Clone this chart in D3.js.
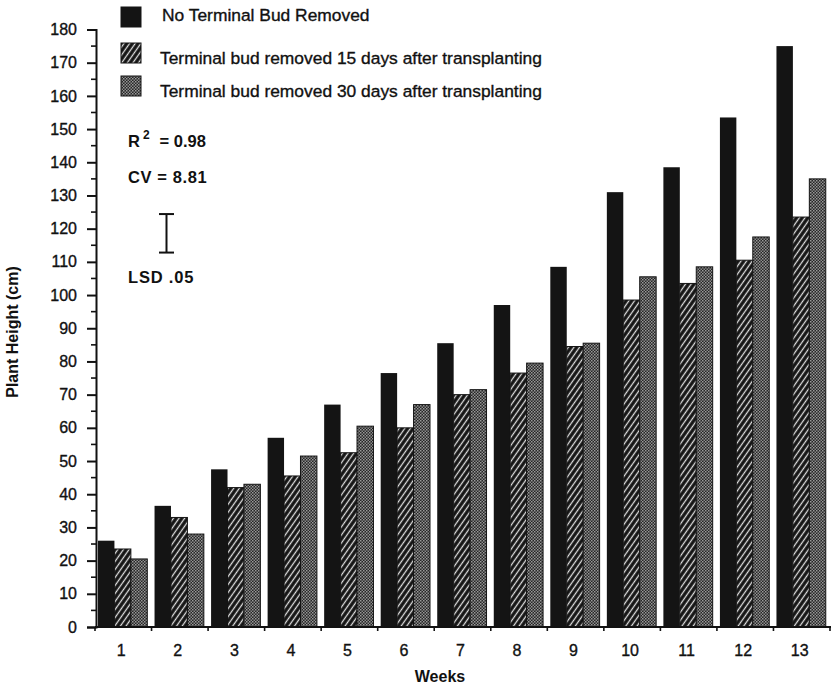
<!DOCTYPE html>
<html><head><meta charset="utf-8">
<script src="https://cdn.jsdelivr.net/npm/d3@7"></script>
<style>body{margin:0;background:#fff}svg{display:block}text{font-family:"Liberation Sans",Arial,Helvetica,sans-serif;fill:#111}.heavy{stroke:#111;stroke-width:0.35px}</style>
</head><body>
<script>
const weeks = [1,2,3,4,5,6,7,8,9,10,11,12,13];
const seriesNames = ["No Terminal Bud Removed","Terminal bud removed 15 days after transplanting","Terminal bud removed 30 days after transplanting"];
const noRemoval   = [26, 36.5, 47.5, 57, 67, 76.5, 85.5, 97, 108.5, 131, 138.5, 153.5, 175];
const removed15   = [23.5, 33, 42, 45.5, 52.5, 60, 70, 76.5, 84.5, 98.5, 103.5, 110.5, 123.5];
const removed30   = [20.5, 28, 43, 51.5, 60.5, 67, 71.5, 79.5, 85.5, 105.5, 108.5, 117.5, 135];
const yTicks = [0,10,20,30,40,50,60,70,80,90,100,110,120,130,140,150,160,170,180];
const lsdRange = [112.8, 124.4];
const stats = {r2: "0.98", cv: "8.81", lsd: "LSD .05"};

const W = 832, H = 689;
const svg = d3.select("body").append("svg").attr("width", W).attr("height", H);
const defs = svg.append("defs");

// hatched pattern
const ph = defs.append("pattern").attr("id","hatch").attr("patternUnits","userSpaceOnUse")
  .attr("width",4.6).attr("height",10).attr("patternTransform","rotate(35)");
ph.append("rect").attr("width",4.6).attr("height",10).attr("fill","#141414");
ph.append("line").attr("x1",2.3).attr("x2",2.3).attr("y1",0).attr("y2",10).attr("stroke","#e0e0e0").attr("stroke-width",1.3);
// dotted pattern
const pd = defs.append("pattern").attr("id","dots").attr("patternUnits","userSpaceOnUse").attr("width",3).attr("height",3);
pd.append("rect").attr("width",3).attr("height",3).attr("fill","#262626");
pd.append("rect").attr("x",0).attr("y",0).attr("width",1.5).attr("height",1.5).attr("fill","#9a9a9a");
pd.append("rect").attr("x",1.5).attr("y",1.5).attr("width",1.5).attr("height",1.5).attr("fill","#8a8a8a");

const fills = ["#141414","url(#hatch)","url(#dots)"];
const data = [noRemoval, removed15, removed30];

const x0 = d3.scaleBand().domain(weeks).range([95, 830]).padding(0);
const x1 = d3.scaleBand().domain([0,1,2]).range([3, 52.3]).padding(0);
const y = d3.scaleLinear().domain([0,180]).range([627, 29.5]);

// bars
const g = svg.append("g");
weeks.forEach((w, i) => {
  data.forEach((s, k) => {
    g.append("rect")
      .attr("x", x0(w) + x1(k))
      .attr("y", y(s[i]))
      .attr("width", x1.bandwidth())
      .attr("height", y(0) - y(s[i]))
      .attr("fill", fills[k])
      .attr("stroke", "#141414").attr("stroke-width", k === 0 ? 0 : 1);
  });
});

// y axis
const yAxis = svg.append("g").attr("transform","translate(96,0)")
  .call(d3.axisLeft(y).tickValues(yTicks).tickSize(9).tickPadding(10).tickFormat(d3.format("d")));
yAxis.select(".domain").attr("stroke","#111").attr("stroke-width",2);
yAxis.selectAll(".tick line").attr("stroke","#111").attr("stroke-width",2);
yAxis.selectAll(".tick text").attr("font-size",16).attr("font-family",'"Liberation Sans",Arial,sans-serif').attr("fill","#111").attr("class","heavy");
// minor ticks
const minor = d3.range(5, 180, 10);
svg.append("g").selectAll("line").data(minor).join("line")
  .attr("x1",91).attr("x2",96).attr("y1",d=>y(d)).attr("y2",d=>y(d))
  .attr("stroke","#111").attr("stroke-width",1.6);

// x axis
svg.append("line").attr("x1",95).attr("x2",831).attr("y1",y(0)).attr("y2",y(0)).attr("stroke","#111").attr("stroke-width",2);
const bounds = weeks.map(w => x0(w)).concat([x0(13) + x0.bandwidth()]);
svg.append("g").selectAll("line").data(bounds).join("line")
  .attr("x1",d=>d).attr("x2",d=>d).attr("y1",y(0)).attr("y2",y(0)+4)
  .attr("stroke","#111").attr("stroke-width",1.6);
svg.append("g").selectAll("text").data(weeks).join("text")
  .attr("class","heavy")
  .attr("x", d => x0(d) + x0.bandwidth()/2 - 2).attr("y", 656)
  .attr("text-anchor","middle").attr("font-size",16).text(d => d);

// axis titles
svg.append("text").attr("x",440).attr("y",682).attr("text-anchor","middle")
  .attr("font-size",16).attr("font-weight","bold").text("Weeks");
svg.append("text").attr("transform","translate(18,332) rotate(-90)").attr("text-anchor","middle")
  .attr("font-size",16).attr("font-weight","bold").text("Plant Height (cm)");

// legend
const legY = [7, 43, 76];
const legBase = [21, 64, 96.5];
seriesNames.forEach((n, k) => {
  svg.append("rect").attr("x",121).attr("y",legY[k]).attr("width",20).attr("height",20)
    .attr("fill", fills[k]).attr("stroke","#141414").attr("stroke-width",1);
  svg.append("text").attr("class","heavy").attr("x", k===0 ? 162 : 160).attr("y", legBase[k]).attr("font-size",17.4).text(n);
});

// stats
const r2 = svg.append("text").attr("x",128).attr("y",147).attr("font-size",16.5).attr("font-weight","bold");
r2.append("tspan").text("R");
r2.append("tspan").attr("dy",-8).attr("dx",3).attr("font-size",12).text("2");
r2.append("tspan").attr("dy",8).attr("dx",10).text("= " + stats.r2);
svg.append("text").attr("x",128).attr("y",183).attr("font-size",16.5).attr("font-weight","bold").attr("letter-spacing",0.6).text("CV = " + stats.cv);
const lx = 166.5;
svg.append("line").attr("x1",lx).attr("x2",lx).attr("y1",y(lsdRange[0])).attr("y2",y(lsdRange[1])).attr("stroke","#111").attr("stroke-width",2);
lsdRange.forEach(v => svg.append("line").attr("x1",lx-7.5).attr("x2",lx+7.5).attr("y1",y(v)).attr("y2",y(v)).attr("stroke","#111").attr("stroke-width",2));
svg.append("text").attr("x",128).attr("y",283).attr("font-size",16.5).attr("font-weight","bold").attr("letter-spacing",0.8).text(stats.lsd);
</script>
</body></html>
